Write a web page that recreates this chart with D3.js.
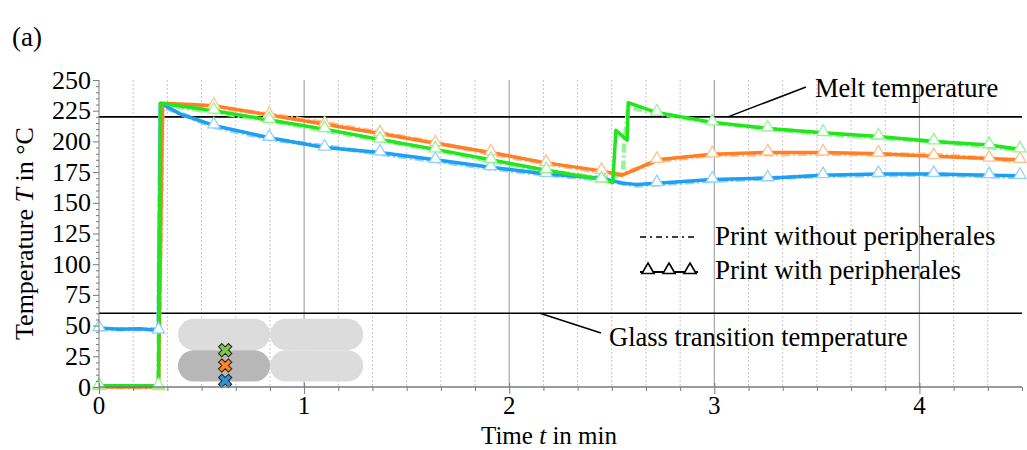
<!DOCTYPE html>
<html>
<head>
<meta charset="utf-8">
<script src="https://cdn.jsdelivr.net/npm/d3@7"></script>
<style>
  body { margin: 0; background: #fff; }
  svg text { font-family: "Liberation Serif", "Times New Roman", serif; fill: #000; }
</style>
</head>
<body>
<svg id="chart" width="1027" height="450"></svg>
<script>
// times (min) at which the triangle markers sit
var markerT = [0, 0.29, 0.56, 0.83, 1.10, 1.37, 1.64, 1.91, 2.18, 2.45, 2.72, 2.99, 3.26, 3.53, 3.80, 4.07, 4.34, 4.49];

// print with peripherales  [t, T]
var blueWith = [[0,48],[0.1,47],[0.2,47.5],[0.29,46],[0.30,231],[0.40,222],[0.56,213],[0.83,203],[1.10,195],[1.37,191],[1.64,185],[1.91,179],[2.18,173.5],[2.45,170],[2.55,166],[2.62,165],[2.72,166],[2.99,169],[3.26,170],[3.53,172.5],[3.80,173.5],[4.07,173.5],[4.34,172.5],[4.49,172]];
var orangeWith = [[0,0],[0.29,0],[0.31,231],[0.45,230],[0.56,229],[0.83,221.5],[1.10,214],[1.37,206.5],[1.64,198.5],[1.91,191],[2.18,182.5],[2.45,176],[2.55,172.5],[2.62,177.5],[2.72,185],[2.99,189.5],[3.26,191],[3.53,191],[3.80,190],[4.07,188],[4.34,186],[4.49,185]];
var greenWith = [[0,1],[0.29,1],[0.30,231],[0.56,225],[0.83,217.5],[1.10,210],[1.37,201.5],[1.64,193.5],[1.91,185],[2.18,176.5],[2.45,169],[2.505,166.5],[2.52,209],[2.575,201],[2.58,231.5],[2.72,223.5],[2.99,215.5],[3.26,210.5],[3.53,207],[3.80,204],[4.07,200],[4.34,197],[4.49,193.5]];

// print without peripherales  [t, T]
var blueWithout = [[0,47],[0.29,47],[0.30,229],[0.56,212],[0.83,202],[1.10,196],[1.37,190],[1.64,184],[1.91,178],[2.18,173],[2.45,169],[2.62,164],[2.99,168],[3.53,172],[4.07,173],[4.49,171]];
var orangeWithout = [[0,0],[0.29,0],[0.31,230],[0.56,228],[0.83,222],[1.10,215],[1.37,207],[1.64,199],[1.91,190],[2.18,182],[2.45,175],[2.55,173],[2.72,184],[2.99,189],[3.53,190],[4.07,189],[4.49,184]];
var greenWithout = [[0,0],[0.29,0],[0.30,230],[0.56,224],[0.83,217],[1.10,209],[1.37,201],[1.64,193],[1.91,184],[2.18,176],[2.45,170],[2.555,173],[2.56,196],[2.58,228],[2.72,223],[2.99,215],[3.53,206],[4.07,200],[4.49,193]];

var meltT = 220, glassT = 60;
var yTicks = [0, 25, 50, 75, 100, 125, 150, 175, 200, 225, 250];
var xTicks = [0, 1, 2, 3, 4];

var svg = d3.select("#chart"),
    x = d3.scaleLinear().domain([0, 4.5]).range([99, 1022]),
    y = d3.scaleLinear().domain([0, 250]).range([387, 80]);

var series = [
  {with: blueWith, without: blueWithout, c: "#1e9ff2", light: "#93d3fb"},
  {with: orangeWith, without: orangeWithout, c: "#ff7f27", light: "#ffc08e"},
  {with: greenWith, without: greenWithout, c: "#22e51e", light: "#95f593"}
];

function i6(v) { return Math.round(v * 6); }

// vertical grid: dotted every 10 s, solid every minute
var minor = d3.range(1, 27).map(function (i) { return i / 6; }).filter(function (v) { return i6(v) % 6 !== 0; });
svg.append("g").selectAll("line").data(minor).join("line")
  .attr("x1", d => x(d)).attr("x2", d => x(d))
  .attr("y1", y(250)).attr("y2", y(0))
  .attr("stroke", "#c8c8c8").attr("stroke-dasharray", "2,2");
svg.append("g").selectAll("line").data([1, 2, 3, 4]).join("line")
  .attr("x1", d => x(d)).attr("x2", d => x(d))
  .attr("y1", y(250)).attr("y2", y(0))
  .attr("stroke", "#a6a6a6").attr("stroke-width", 1.2);

// melt / glass lines
svg.append("g").selectAll("line").data([meltT, glassT]).join("line")
  .attr("x1", x(0)).attr("x2", x(4.5))
  .attr("y1", d => y(d)).attr("y2", d => y(d))
  .attr("stroke", "#000").attr("stroke-width", 1.6);

// inset schematic of the strands
var inset = svg.append("g");
var cells = [
  {x0: 0.385, x1: 0.834, t0: 55.5, t1: 30, f: "#dcdcdc"},
  {x0: 0.834, x1: 1.288, t0: 55.5, t1: 30, f: "#dcdcdc"},
  {x0: 0.834, x1: 1.288, t0: 30, t1: 4.5, f: "#dcdcdc"},
  {x0: 0.385, x1: 0.834, t0: 30, t1: 4.5, f: "#b7b7b7"}
];
inset.selectAll("rect").data(cells).join("rect")
  .attr("x", d => x(d.x0)).attr("y", d => y(d.t0))
  .attr("width", d => x(d.x1) - x(d.x0)).attr("height", d => y(d.t1) - y(d.t0))
  .attr("rx", 16).attr("fill", d => d.f);
var crossCols = ["#78c84a", "#ff8424", "#2a95d6"];
inset.selectAll("path").data([30, 17.5, 5]).join("path")
  .attr("transform", d => "translate(" + x(0.615) + "," + y(d) + ") rotate(45)")
  .attr("d", d3.symbol(d3.symbolCross, 110))
  .attr("fill", (d, i) => crossCols[i]).attr("stroke", "#222").attr("stroke-width", 1);

var line = d3.line().x(d => x(d[0])).y(d => y(d[1]));

// dash-dot runs (without peripherales)
svg.append("g").selectAll("path").data(series).join("path")
  .attr("d", d => line(d.without))
  .attr("fill", "none").attr("stroke", d => d.light).attr("stroke-width", 4.5)
  .attr("stroke-dasharray", "9,3,2,3");

// solid runs (with peripherales)
svg.append("g").selectAll("path").data(series).join("path")
  .attr("d", d => line(d.with))
  .attr("fill", "none").attr("stroke", d => d.c).attr("stroke-width", 3.5)
  .attr("stroke-linejoin", "round");

var tri = d3.symbol(d3.symbolTriangle, 64);
series.forEach(function (s) {
  var pts = s.with.filter(d => markerT.indexOf(d[0]) >= 0);
  svg.append("g").selectAll("path").data(pts).join("path")
    .attr("transform", d => "translate(" + x(d[0]) + "," + (y(d[1]) - 1) + ")")
    .attr("d", tri).attr("fill", "#fff").attr("stroke", s.light).attr("stroke-width", 1.3);
});

// axes
var yAxis = svg.append("g").attr("transform", "translate(" + x(0) + ",0)");
yAxis.call(d3.axisLeft(y).tickValues(d3.range(0, 251, 5)).tickSize(3).tickFormat(""));
yAxis.selectAll(".tick line").filter(d => d % 25 === 0).attr("x2", -6);
yAxis.selectAll("path, line").attr("stroke", "#7a7a7a");
yAxis.select(".domain").attr("d", "M0," + y(250) + "V" + y(0));
svg.append("g").selectAll("text").data(yTicks).join("text")
  .attr("x", x(0) - 8).attr("y", d => y(d) + 8.5)
  .attr("text-anchor", "end").attr("font-size", 26).text(d => d);

var xAxis = svg.append("g").attr("transform", "translate(0," + y(0) + ")");
xAxis.call(d3.axisBottom(x).tickValues(d3.range(0, 28).map(i => i / 6)).tickSize(4).tickFormat(""));
xAxis.selectAll(".tick line").filter(d => i6(d) % 6 === 0).attr("y1", -4).attr("y2", 7);
xAxis.selectAll("path, line").attr("stroke", "#7a7a7a");
xAxis.select(".domain").attr("d", "M" + x(0) + ",0H" + x(4.5)).attr("stroke-width", 1.5);
svg.append("g").selectAll("text").data(xTicks).join("text")
  .attr("x", d => x(d)).attr("y", 414)
  .attr("text-anchor", "middle").attr("font-size", 25).text(d => d);

// titles
var xt = svg.append("text").attr("x", 549).attr("y", 444).attr("text-anchor", "middle").attr("font-size", 25);
xt.append("tspan").text("Time ");
xt.append("tspan").attr("font-style", "italic").text("t");
xt.append("tspan").text(" in min");

var yt = svg.append("text").attr("transform", "translate(33," + y(125) + ") rotate(-90)")
  .attr("text-anchor", "middle").attr("font-size", 26);
yt.append("tspan").text("Temperature ");
yt.append("tspan").attr("font-style", "italic").text("T");
yt.append("tspan").text(" in \u00b0C");

svg.append("text").attr("x", 12).attr("y", 46).attr("font-size", 27).text("(a)");

// annotations
svg.append("line").attr("x1", 728).attr("y1", y(meltT)).attr("x2", 806).attr("y2", 87)
  .attr("stroke", "#000").attr("stroke-width", 1.5);
svg.append("text").attr("x", 815).attr("y", 97).attr("font-size", 26.5).text("Melt temperature");
svg.append("line").attr("x1", 540).attr("y1", y(glassT)).attr("x2", 601).attr("y2", 333)
  .attr("stroke", "#000").attr("stroke-width", 1.5);
svg.append("text").attr("x", 609).attr("y", 346).attr("font-size", 26.5).text("Glass transition temperature");

// legend
var lg = svg.append("g");
lg.append("line").attr("x1", 640).attr("x2", 698).attr("y1", 237).attr("y2", 237)
  .attr("stroke", "#000").attr("stroke-width", 1.5).attr("stroke-dasharray", "6,4,2,4");
lg.append("text").attr("x", 715).attr("y", 245).attr("font-size", 27).text("Print without peripherales");
lg.append("line").attr("x1", 640).attr("x2", 698).attr("y1", 272).attr("y2", 272)
  .attr("stroke", "#000").attr("stroke-width", 1.8);
lg.selectAll("path").data([648, 669, 690]).join("path")
  .attr("transform", d => "translate(" + d + ",270)")
  .attr("d", d3.symbol(d3.symbolTriangle, 64)).attr("fill", "#fff").attr("stroke", "#000").attr("stroke-width", 1.6);
lg.append("text").attr("x", 715).attr("y", 279).attr("font-size", 27).text("Print with peripherales");
</script>
</body>
</html>
